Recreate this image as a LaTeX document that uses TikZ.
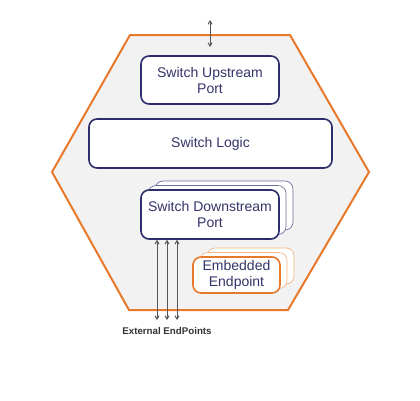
\documentclass[tikz,border=0pt]{standalone}
\usepackage{fontspec}
\setmainfont{Liberation Sans}
\usetikzlibrary{arrows.meta,calc}
\definecolor{hexorange}{HTML}{E8782A}
\definecolor{hexfill}{HTML}{F2F2F2}
\definecolor{navy}{HTML}{2E2E6C}
\definecolor{navytext}{HTML}{34346A}
\definecolor{lightorange}{HTML}{F2B482}
\definecolor{lightnavy}{HTML}{6C6C9A}
\definecolor{arrowgray}{HTML}{555555}
\tikzset{
  portbox/.style={draw=navy, line width=1.2pt, fill=white, rounded corners=6pt,
    text=navytext, font=\fontsize{10.5}{12}\selectfont, align=center, inner sep=0pt},
  portcopy/.style={draw=lightnavy, line width=0.5pt, fill=white, rounded corners=6pt, inner sep=0pt},
  epbox/.style={draw=hexorange, line width=1.2pt, fill=white, rounded corners=6pt,
    text=navytext, font=\fontsize{10.5}{12}\selectfont, align=center, inner sep=0pt},
  epcopy/.style={draw=lightorange, line width=0.5pt, fill=white, rounded corners=6pt, inner sep=0pt},
  link/.style={draw=arrowgray, line width=0.75pt, {Straight Barb[length=2.5pt,width=3pt]}-{Straight Barb[length=2.5pt,width=3pt]}},
  caption/.style={font=\bfseries\fontsize{7.3}{8}\selectfont, text=black!80}
}
\begin{document}
\begin{tikzpicture}[x=0.75pt,y=-0.75pt]
\useasboundingbox (0,0) rectangle (420,400);
% hexagon
\draw[draw=hexorange, fill=hexfill, line width=1.5pt, line join=miter]
  (130,35) -- (290,35) -- (369,172) -- (288,310) -- (129,310) -- (52,172) -- cycle;
% upstream port
\node[portbox, minimum width=103.5pt, minimum height=36pt] (up) at (210,80) {Switch Upstream\\Port};
\coordinate (upext) at (210,20);
\coordinate (upend) at (210,47);
\draw[link] (upext) -- (upend);
% switch logic
\node[portbox, minimum width=182.25pt, minimum height=36.75pt] (logic) at (210.5,143.5) {Switch Logic};
% downstream port stack
\node[portcopy, minimum width=103.5pt, minimum height=36.75pt] (dsb) at (224,205.5) {};
\node[portcopy, minimum width=103.5pt, minimum height=36.75pt] (dsm) at (217,210) {};
\node[portbox, minimum width=103.5pt, minimum height=36.75pt] (ds) at (210,214.5) {Switch Downstream\\Port};
% embedded endpoint stack
\node[epcopy, minimum width=65.25pt, minimum height=27pt] (epb) at (250.5,266) {};
\node[epcopy, minimum width=65.25pt, minimum height=27pt] (epm) at (243.5,270.5) {};
\node[epbox, minimum width=65.25pt, minimum height=27pt] (ep) at (236.5,275) {Embedded\\Endpoint};
% external links
\coordinate (e1) at (157,320);
\coordinate (e2) at (167,320);
\coordinate (e3) at (177,320);
\draw[link] (ds.south -| e1) -- (e1);
\draw[link] (ds.south -| e2) -- (e2);
\draw[link] (ds.south -| e3) -- (e3);
\node[caption] (ext) at (167,331.5) {External EndPoints};
\end{tikzpicture}
\end{document}
